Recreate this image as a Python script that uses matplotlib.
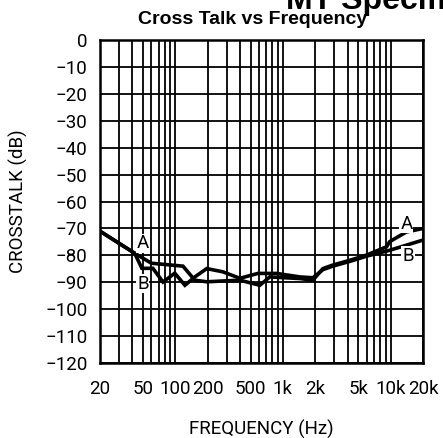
import numpy as np
import matplotlib.pyplot as plt

# --- données (fréquence en Hz, diaphonie en dB) ---
freq_a = [20, 42, 60, 118, 152, 196, 398, 610, 755, 1440, 1900, 2350, 2900, 4200, 5960, 9180, 9800, 14000, 20000]
xtalk_a = [-71.0, -79.2, -82.9, -84.0, -89.2, -89.8, -89.2, -91.1, -88.0, -88.6, -89.2, -84.9, -83.6, -81.8, -79.9, -76.8, -74.9, -71.3, -70.0]

freq_b = [20, 42, 49, 62, 77, 99, 123, 152, 196, 277, 398, 585, 874, 1440, 1900, 2350, 2900, 4200, 5960, 9800, 14000, 20000]
xtalk_b = [-71.0, -79.2, -84.8, -84.8, -89.9, -86.6, -91.1, -88.0, -84.9, -86.1, -88.5, -86.7, -86.7, -88.0, -88.3, -85.3, -84.0, -82.2, -80.3, -78.1, -76.2, -74.3]

xticks = [20, 50, 100, 200, 500, 1000, 2000, 5000, 10000, 20000]
xtick_labels = ["20", "50", "100", "200", "500", "1k", "2k", "5k", "10k", "20k"]
yticks = list(range(-120, 1, 10))

POLICE = "Roboto"
TAILLE = 13.5

fig = plt.figure(figsize=(4.43, 4.38), dpi=100)
ax = fig.add_axes([0.2257, 0.171, 0.7292, 0.7377])

ax.set_xscale("log")
ax.set_xlim(20, 20000)
ax.set_ylim(-120, 0)

# grille log complète, traits noirs
ax.set_xticks(xticks)
ax.set_xticklabels(xtick_labels, family=POLICE)
ax.set_yticks(yticks)
ax.set_yticklabels([f"\u2212{-v}" if v < 0 else "0" for v in yticks], family=POLICE)
ax.grid(True, which="both", color="black", linewidth=1.3)
ax.tick_params(which="both", length=0, labelsize=TAILLE, pad=9)
ax.tick_params(axis="x", pad=12)
for sp in ax.spines.values():
    sp.set_linewidth(1.8)

ax.plot(freq_a, xtalk_a, color="black", linewidth=2.6, solid_joinstyle="miter", zorder=3)
ax.plot(freq_b, xtalk_b, color="black", linewidth=2.6, solid_joinstyle="miter", zorder=3)

# étiquettes des courbes
boite = dict(facecolor="white", edgecolor="none", pad=0.5)
for x, y, t in [(50, -75.5, "A"), (50, -90.5, "B"), (14000, -68.2, "A"), (14500, -80.3, "B")]:
    ax.text(x, y, t, fontsize=TAILLE, family=POLICE, ha="center", va="center", bbox=boite, zorder=4)

ax.set_xlabel("FREQUENCY (Hz)", fontsize=TAILLE, family=POLICE)
ax.xaxis.set_label_coords(0.5, -0.175)
ax.set_ylabel("CROSSTALK (dB)", fontsize=TAILLE, family=POLICE, labelpad=12)

fig.text(0.57, 0.955, "Cross Talk vs Frequency", fontsize=14, fontweight="bold",
         family="Liberation Sans", ha="center", va="center")
fig.text(0.645, 0.98, "MT Specific", fontsize=23, fontweight="bold",
         family="Liberation Sans", ha="left", va="baseline")

fig.savefig("out.png", dpi=100)
